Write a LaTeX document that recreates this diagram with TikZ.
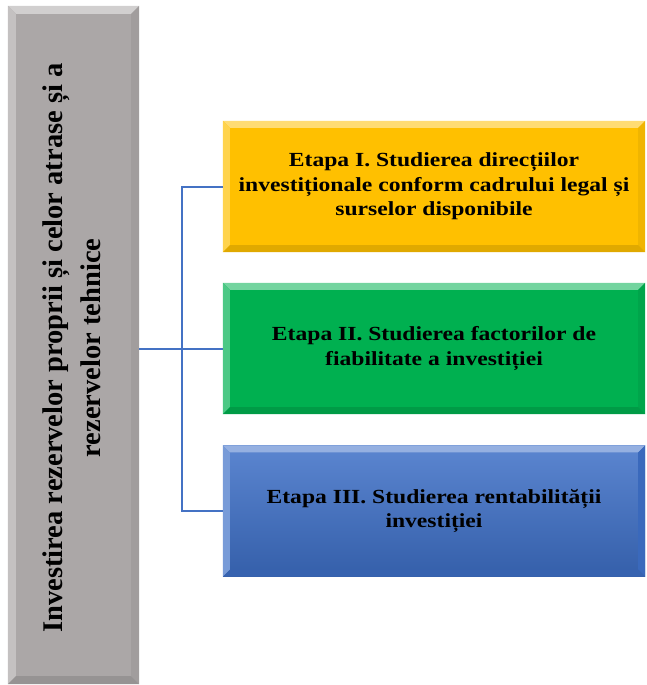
\documentclass[tikz,border=0pt]{standalone}
\usepackage{fontspec}
\setmainfont{Liberation Serif}
\newfontfamily\stagefont[FakeStretch=1.18]{Liberation Serif}
\usetikzlibrary{calc}

\definecolor{rootgray}{RGB}{171, 167, 167}
\definecolor{stageyellow}{RGB}{255, 192, 0}
\definecolor{stagegreen}{RGB}{0, 176, 80}
\definecolor{stageblue}{RGB}{62, 112, 200}
\definecolor{linkblue}{RGB}{68, 114, 196}

\begin{document}
\begin{tikzpicture}[x=1pt, y=-1pt,
	root/.style={fill=rootgray, minimum width=131pt, minimum height=678pt, inner sep=0pt},
	stage/.style={minimum width=422pt, minimum height=131pt, inner sep=0pt, align=center,
		font=\stagefont\fontsize{20}{24.5}\selectfont\bfseries},
	link/.style={draw=linkblue, line width=2pt}]
	\useasboundingbox (0, 0) rectangle (646, 685);

	% \bevel#node#color#width
	\def\bevel#1#2#3{
		\fill[#2!55!white] (#1.north west) -- (#1.north east) -- ([xshift=-#3pt, yshift=-#3pt]#1.north east) -- ([xshift=#3pt, yshift=-#3pt]#1.north west) -- cycle;
		\fill[#2!70!white] (#1.north west) -- ([xshift=#3pt, yshift=-#3pt]#1.north west) -- ([xshift=#3pt, yshift=#3pt]#1.south west) -- (#1.south west) -- cycle;
		\fill[#2!94!black] (#1.north east) -- ([xshift=-#3pt, yshift=-#3pt]#1.north east) -- ([xshift=-#3pt, yshift=#3pt]#1.south east) -- (#1.south east) -- cycle;
		\fill[#2!88!black] (#1.south west) -- ([xshift=#3pt, yshift=#3pt]#1.south west) -- ([xshift=-#3pt, yshift=#3pt]#1.south east) -- (#1.south east) -- cycle;
	}

	% left box
	\node[root] (root) at (73.5, 345) {};
	\bevel{root}{rootgray}{8}
	\node[rotate=90, align=center, font=\fontsize{28.5}{38}\selectfont\bfseries] (rootlabel) at (72, 348)
		{Investirea rezervelor proprii și celor atrase și a\\rezervelor tehnice};

	% stages
	\node[stage, fill=stageyellow] (s1) at (434, 186.5) {};
	\node[stage, fill=stagegreen] (s2) at (434, 348.5) {};
	\node[stage, top color=stageblue!85!white, bottom color=stageblue!85!black] (s3) at (434, 511) {};
	\foreach \n/\c in {s1/stageyellow, s2/stagegreen, s3/stageblue} {
		\bevel{\n}{\c}{7}
	}
	\node[stage] (t1) at (s1) {Etapa I. Studierea direcțiilor\\investiționale conform cadrului legal și\\surselor disponibile};
	\node[stage] (t2) at (s2) {Etapa II. Studierea factorilor de\\fiabilitate a investiției};
	\node[stage] (t3) at (s3) {Etapa III. Studierea rentabilității\\investiției};

	% connectors
	\coordinate (fork) at (182, 348.5);
	\draw[link] (s1.west) -- (s1.west -| fork) -- (s3.west -| fork) -- (s3.west);
	\draw[link] (root.east |- s2.west) -- (s2.west);
\end{tikzpicture}
\end{document}
